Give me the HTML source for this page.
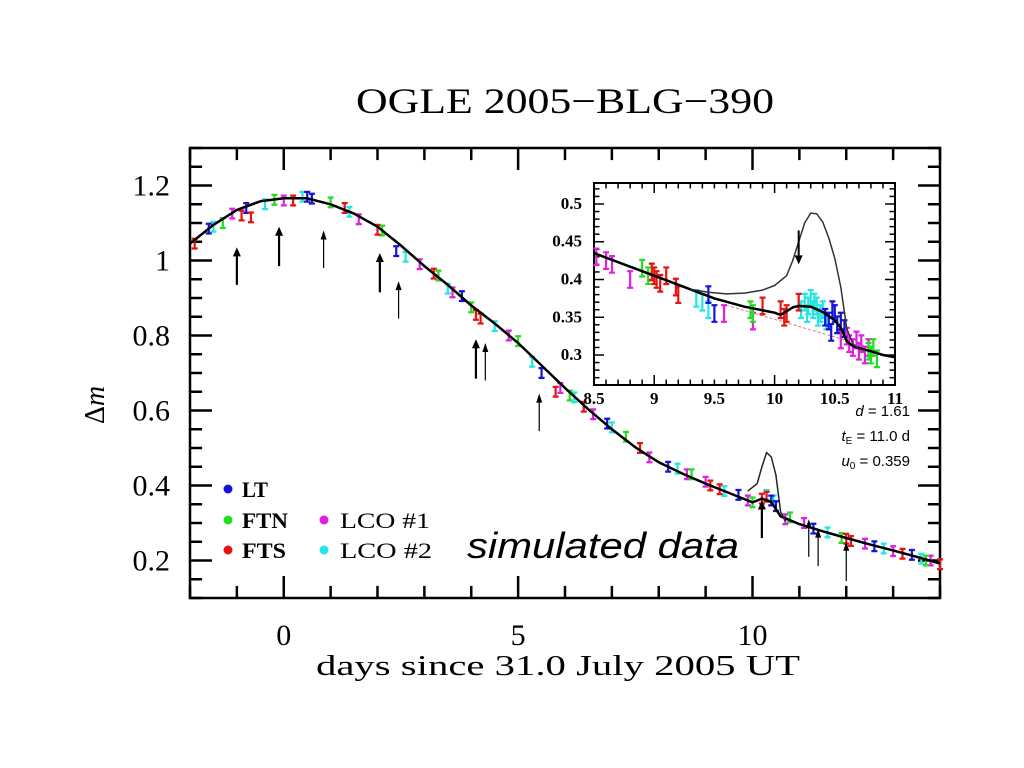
<!DOCTYPE html>
<html><head><meta charset="utf-8"><title>OGLE 2005-BLG-390</title>
<style>
html,body{margin:0;padding:0;background:#fff;}
svg{display:block;}
.serif{font-family:"Liberation Serif","DejaVu Serif",serif;}
.sans{font-family:"Liberation Sans","DejaVu Sans",sans-serif;}
</style></head>
<body>
<svg id="chart" width="1024" height="768" viewBox="0 0 1024 768" xmlns="http://www.w3.org/2000/svg">
<rect width="1024" height="768" fill="#fff"/>
<text class="serif" x="356" y="113" font-size="36" textLength="418" lengthAdjust="spacingAndGlyphs">OGLE 2005−BLG−390</text>
<g id="main"></g>
<g id="inset"></g>
<text class="serif" x="316" y="675" font-size="28" textLength="484" lengthAdjust="spacingAndGlyphs">days since 31.0 July 2005 UT</text>
<text class="serif" x="0" y="0" font-size="28" text-anchor="middle" transform="translate(104,405) rotate(-90)">Δ<tspan font-style="italic">m</tspan></text>
<text class="sans" x="467" y="558" font-size="36" font-style="italic" textLength="272" lengthAdjust="spacingAndGlyphs">simulated data</text>
<g class="sans" font-size="15" text-anchor="end">
<text x="910" y="416"><tspan font-style="italic">d</tspan> = 1.61</text>
<text x="910" y="441"><tspan font-style="italic">t</tspan><tspan font-size="10" dy="3">E</tspan><tspan dy="-3"> = 11.0 d</tspan></text>
<text x="910" y="466"><tspan font-style="italic">u</tspan><tspan font-size="10" dy="3">0</tspan><tspan dy="-3"> = 0.359</tspan></text>
</g>
<g class="serif" font-size="22">
<circle cx="228" cy="489" r="4.5" fill="#1414d8"/>
<text x="242" y="497" font-weight="bold" textLength="26" lengthAdjust="spacingAndGlyphs">LT</text>
<circle cx="228" cy="520" r="4.5" fill="#22dd22"/>
<text x="242" y="528" font-weight="bold" textLength="46" lengthAdjust="spacingAndGlyphs">FTN</text>
<circle cx="228" cy="550" r="4.5" fill="#e51414"/>
<text x="242" y="558" font-weight="bold" textLength="44" lengthAdjust="spacingAndGlyphs">FTS</text>
<circle cx="324" cy="520" r="4.5" fill="#e020e0"/>
<text x="340" y="528" textLength="90" lengthAdjust="spacingAndGlyphs">LCO #1</text>
<circle cx="324" cy="550" r="4.5" fill="#22e5e5"/>
<text x="340" y="558" textLength="92" lengthAdjust="spacingAndGlyphs">LCO #2</text>
</g>
</svg>
<script>
// ---- main model curve ----
const modelDays=[-2,-1.5,-1,-0.5,0,0.5,1,1.5,2,2.5,3,3.5,4,4.5,5,5.5,6,6.5,7,7.5,8,8.5,9,9.5,10,10.2,10.4,10.6,11,11.5,12,12.5,13,13.5,14];
const modelMag=[1.045,1.095,1.135,1.158,1.166,1.166,1.15,1.125,1.09,1.04,0.985,0.935,0.88,0.832,0.78,0.72,0.66,0.603,0.55,0.502,0.462,0.432,0.405,0.38,0.355,0.365,0.356,0.318,0.297,0.278,0.26,0.243,0.227,0.21,0.192];
const bumpDays=[9.9,10.1,10.2,10.3,10.4,10.5,10.6,10.7];
const bumpMag=[0.385,0.405,0.45,0.488,0.476,0.428,0.33,0.305];
// ---- main data per telescope ----
const ltDays=[-1.6,-0.8,0.5,0.6,2.4,3.8,5.5,6.9,8.2,9.7,10.4,10.5,11.3,12.6,13.4];
const ltMag=[1.085,1.14,1.17,1.165,1.025,0.905,0.7,0.565,0.45,0.375,0.36,0.345,0.285,0.238,0.215];
const ftnDays=[-1.3,-0.2,1.0,2.1,3.3,4.0,5.0,6.1,7.3,8.7,10.0,10.8,11.9,13.7];
const ftnMag=[1.1,1.162,1.155,1.08,0.96,0.875,0.785,0.64,0.53,0.43,0.355,0.315,0.26,0.2];
const ftsDays=[-1.9,-0.9,-0.7,0.2,1.3,2.0,3.2,4.1,4.2,5.8,6.4,7.6,9.1,9.3,10.2,10.3,12.0,12.1,13.2,14.0];
const ftsMag=[1.045,1.12,1.115,1.16,1.14,1.082,0.965,0.855,0.845,0.65,0.61,0.5,0.4,0.39,0.365,0.37,0.258,0.252,0.218,0.19];
const lco1Days=[-1.1,0.0,1.6,2.9,3.6,4.8,5.9,6.6,7.8,8.6,9.0,9.9,10.7,11.1,12.4,13.0,13.8];
const lco1Mag=[1.125,1.16,1.11,0.99,0.915,0.8,0.66,0.59,0.475,0.43,0.41,0.36,0.31,0.3,0.245,0.225,0.2];
const lco2Days=[-1.5,-0.4,0.4,1.4,2.6,3.5,4.5,5.3,6.2,7.0,8.4,9.4,10.3,10.45,11.6,12.8,13.6];
const lco2Mag=[1.09,1.15,1.17,1.13,1.01,0.925,0.825,0.73,0.635,0.555,0.445,0.385,0.375,0.36,0.275,0.232,0.205];
const arrowDays=[-1.0,-0.1,0.85,2.05,2.45,4.1,4.3,5.45,10.2,11.2,11.4,12.0];
const arrowTop=[1.035,1.09,1.08,1.02,0.945,0.79,0.78,0.645,0.36,0.31,0.285,0.25];
const arrowLen=[0.1,0.105,0.1,0.105,0.1,0.105,0.1,0.1,0.1,0.1,0.1,0.105];
const arrowBold=[1,1,0,1,0,1,0,0,1,0,0,0];
const xTicks=[0,5,10];
const yTicks=[0.2,0.4,0.6,0.8,1,1.2];
// ---- inset data ----
const inModelDays=[8.5,8.75,9,9.25,9.5,9.75,10,10.05,10.1,10.15,10.2,10.3,10.4,10.5,10.55,10.6,10.65,10.7,10.8,10.9,11];
const inModelMag=[0.435,0.42,0.405,0.39,0.375,0.364,0.356,0.353,0.358,0.363,0.365,0.364,0.357,0.346,0.336,0.318,0.312,0.309,0.305,0.3,0.297];
const inBumpDays=[9.3,9.45,9.6,9.75,9.9,10.0,10.1,10.15,10.2,10.25,10.3,10.35,10.4,10.45,10.5,10.55,10.6,10.65,10.7,10.75];
const inBumpMag=[0.387,0.383,0.381,0.382,0.386,0.392,0.405,0.425,0.45,0.475,0.488,0.487,0.476,0.455,0.428,0.39,0.335,0.315,0.308,0.306];
const inNoPlDays=[9.6,10.8];
const inNoPlMag=[0.366,0.31];
const inLtDays=[9.45,9.5,10.42,10.45,10.48,10.5,10.52,10.55,10.47,10.58];
const inLtMag=[0.38,0.355,0.35,0.345,0.36,0.355,0.34,0.345,0.33,0.335];
const inFtnDays=[8.9,8.95,9.8,9.82,10.78,10.8,10.82,10.85];
const inFtnMag=[0.415,0.405,0.36,0.355,0.305,0.3,0.31,0.295];
const inFtsDays=[8.98,9.0,9.02,9.05,9.1,9.18,9.2,9.9,10.05,10.08,10.1,10.2];
const inFtsMag=[0.41,0.405,0.4,0.395,0.405,0.39,0.38,0.365,0.36,0.35,0.355,0.37];
const inLco1Days=[8.52,8.6,8.65,8.8,9.58,9.82,10.6,10.62,10.65,10.68,10.7,10.72,10.75,10.78,10.55];
const inLco1Mag=[0.43,0.425,0.42,0.4,0.355,0.345,0.325,0.315,0.31,0.32,0.305,0.315,0.3,0.31,0.32];
const inLco2Days=[9.35,9.4,9.45,10.22,10.25,10.28,10.3,10.32,10.35,10.38,10.4,10.27,10.33,10.36,10.43];
const inLco2Mag=[0.375,0.37,0.36,0.36,0.37,0.365,0.375,0.36,0.365,0.355,0.36,0.355,0.37,0.35,0.345];
const inArrowDays=[10.2];const inArrowTop=[0.465];const inArrowBot=[0.42];
const inXTicks=[8.5,9,9.5,10,10.5,11];
const inYTicks=[0.3,0.35,0.4,0.45,0.5];

const NS='http://www.w3.org/2000/svg';
const colors={lt:'#1414d8',ftn:'#22dd22',fts:'#e51414',lco1:'#e020e0',lco2:'#22e5e5'};
function mk(parent,tag,attrs){const e=document.createElementNS(NS,tag);for(const k in attrs)e.setAttribute(k,attrs[k]);parent.appendChild(e);return e;}

const M={x0:190,x1:940,y0:148,y1:598,dmin:-2,dmax:14,mmin:0.1,mmax:1.3};
const mx=d=>M.x0+(d-M.dmin)/(M.dmax-M.dmin)*(M.x1-M.x0);
const my=m=>M.y1-(m-M.mmin)/(M.mmax-M.mmin)*(M.y1-M.y0);
const I={x0:594,x1:895,y0:183,y1:385,dmin:8.5,dmax:11,mmin:0.2603,mmax:0.5278};
const ix=d=>I.x0+(d-I.dmin)/(I.dmax-I.dmin)*(I.x1-I.x0);
const iy=m=>I.y1-(m-I.mmin)/(I.mmax-I.mmin)*(I.y1-I.y0);

const gm=document.getElementById('main');
const gi=document.getElementById('inset');

function frame(g,X,fx,fy,xmaj,xminStep,ymin,ymaj,len,name){
  const r=mk(g,'rect',{x:X.x0,y:X.y0,width:X.x1-X.x0,height:X.y1-X.y0,fill:'none',stroke:'#000','stroke-width':len>10?2.5:2});
  
  
  for(let d=Math.ceil(X.dmin/xminStep)*xminStep;d<=X.dmax+1e-9;d+=xminStep){
    const isMaj=xmaj.some(v=>Math.abs(v-d)<1e-6);const l=isMaj?len:len*0.55;const x=fx(d);
    mk(g,'line',{x1:x,x2:x,y1:X.y1,y2:X.y1-l,stroke:'#000','stroke-width':len>10?2.5:1.5});
    mk(g,'line',{x1:x,x2:x,y1:X.y0,y2:X.y0+l,stroke:'#000','stroke-width':len>10?2.5:1.5});
  }
  for(let m=Math.ceil(X.mmin/ymin-1e-6)*ymin;m<=X.mmax+1e-9;m+=ymin){
    const isMaj=ymaj.some(v=>Math.abs(v-m)<1e-6);const l=isMaj?len:len*0.55;const y=fy(m);
    mk(g,'line',{x1:X.x0,x2:X.x0+l,y1:y,y2:y,stroke:'#000','stroke-width':len>10?2.5:1.5});
    mk(g,'line',{x1:X.x1,x2:X.x1-l,y1:y,y2:y,stroke:'#000','stroke-width':len>10?2.5:1.5});
  }
}
frame(gm,M,mx,my,xTicks,1,0.05,yTicks,22,'main');
frame(gi,I,ix,iy,[9,10,11],0.1,0.01,inYTicks,10,'inset');

xTicks.forEach(v=>{const t=mk(gm,'text',{x:mx(v),y:645,'font-size':30,'text-anchor':'middle',class:'serif'});t.textContent=v;

});
yTicks.forEach(v=>{const t=mk(gm,'text',{x:170,y:my(v)+10,'font-size':30,'text-anchor':'end',class:'serif'});t.textContent=v;

});
inXTicks.forEach(v=>{const t=mk(gi,'text',{x:ix(v),y:404,'font-size':17,'font-weight':'bold','text-anchor':'middle',class:'serif'});t.textContent=v;

});
inYTicks.forEach(v=>{const t=mk(gi,'text',{x:582,y:iy(v)+5,'font-size':17,'font-weight':'bold','text-anchor':'end',class:'serif'});t.textContent=v;

});

function line(g,ds,ms,fx,fy,attrs,name){
  const p=mk(g,'polyline',Object.assign({points:ds.map((d,i)=>fx(d).toFixed(1)+','+fy(ms[i]).toFixed(1)).join(' '),fill:'none','stroke-linejoin':'round'},attrs));
  
  
}
function points(g,ds,ms,fx,fy,col,err,cap,name){
  ds.forEach((d,i)=>{const x=fx(d),y1=fy(ms[i]+err),y2=fy(ms[i]-err);
    const p=mk(g,'path',{d:`M${x},${y1}V${y2}M${x-cap},${y1}h${2*cap}M${x-cap},${y2}h${2*cap}`,stroke:col,'stroke-width':2.2,fill:'none'});
    
    
  });
}
points(gm,lco1Days,lco1Mag,mx,my,colors.lco1,0.013,3,'lco1-point');
points(gm,lco2Days,lco2Mag,mx,my,colors.lco2,0.013,3,'lco2-point');
points(gm,ftnDays,ftnMag,mx,my,colors.ftn,0.013,3,'ftn-point');
points(gm,ltDays,ltMag,mx,my,colors.lt,0.013,3,'lt-point');
points(gm,ftsDays,ftsMag,mx,my,colors.fts,0.013,3,'fts-point');
line(gm,modelDays,modelMag,mx,my,{stroke:'#000','stroke-width':2.5},'model-curve');
line(gm,bumpDays,bumpMag,mx,my,{stroke:'#222','stroke-width':1.5},'caustic-model-curve');
arrowDays.forEach((d,i)=>{const x=mx(d),yt=my(arrowTop[i]),yb=my(arrowTop[i]-arrowLen[i]);const w=arrowBold[i]?2.2:1.2;const h=arrowBold[i]?4:3;
  const p=mk(gm,'path',{d:`M${x},${yb}V${yt+6}`,stroke:'#000','stroke-width':w});
  
  
  mk(gm,'path',{d:`M${x-h},${yt+9}L${x},${yt}L${x+h},${yt+9}Z`,fill:'#000'});
});
line(gi,inNoPlDays,inNoPlMag,ix,iy,{stroke:'#d08080','stroke-width':1,'stroke-dasharray':'3,2'},'inset-no-planet-curve');
points(gi,inLco1Days,inLco1Mag,ix,iy,colors.lco1,0.011,3,'inset-lco1-point');
points(gi,inLco2Days,inLco2Mag,ix,iy,colors.lco2,0.011,3,'inset-lco2-point');
points(gi,inFtnDays,inFtnMag,ix,iy,colors.ftn,0.011,3,'inset-ftn-point');
points(gi,inLtDays,inLtMag,ix,iy,colors.lt,0.011,3,'inset-lt-point');
points(gi,inFtsDays,inFtsMag,ix,iy,colors.fts,0.011,3,'inset-fts-point');
line(gi,inModelDays,inModelMag,ix,iy,{stroke:'#000','stroke-width':2.5},'inset-model-curve');
line(gi,inBumpDays,inBumpMag,ix,iy,{stroke:'#333','stroke-width':1.5},'inset-caustic-curve');
inArrowDays.forEach((d,i)=>{const x=ix(d),yt=iy(inArrowTop[i]),yb=iy(inArrowBot[i]);
  const p=mk(gi,'path',{d:`M${x},${yt}V${yb-6}`,stroke:'#000','stroke-width':2});
  
  
  mk(gi,'path',{d:`M${x-4},${yb-9}L${x},${yb}L${x+4},${yb-9}Z`,fill:'#000'});
});
</script>
</body></html>
